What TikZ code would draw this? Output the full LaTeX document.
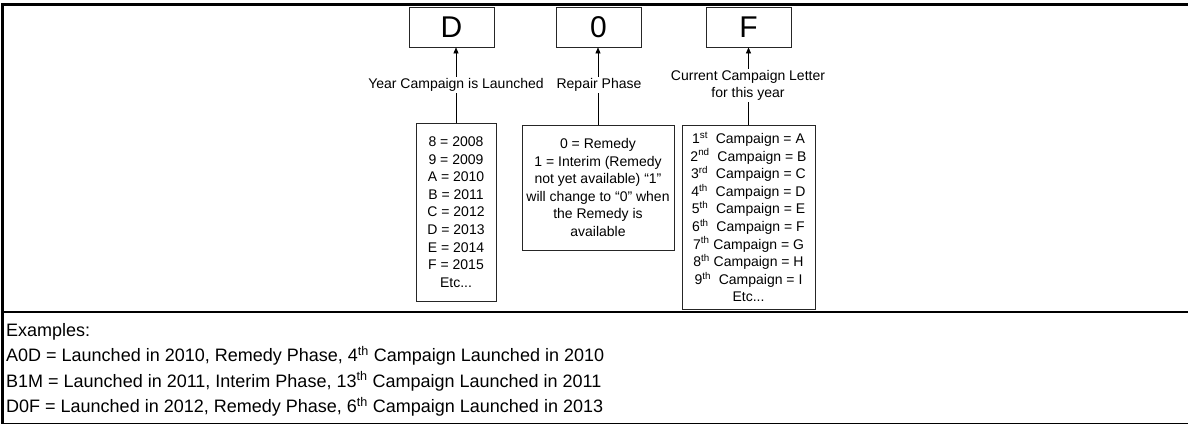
\documentclass[tikz,border=0pt]{standalone}
\usepackage{fontspec}
\setmainfont{Liberation Sans}
\usetikzlibrary{arrows.meta}
\tikzset{
  bigbox/.style={draw=black!85, line width=0.8pt, inner sep=0pt, minimum width=85pt, minimum height=40pt, font=\fontsize{30}{30}\selectfont},
  listbox/.style={draw=black!85, line width=0.8pt, inner sep=0pt, align=center, font=\fontsize{14}{17.6}\selectfont},
  lbl/.style={inner sep=1.5pt, align=center, font=\fontsize{14}{17}\selectfont},
  conn/.style={line width=0.6pt, black},
  arr/.style={conn, -{Triangle[length=6pt,width=5pt]}},
  extxt/.style={inner sep=0pt, anchor=base west, font=\fontsize{18}{25}\selectfont},
  frame/.style={black}
}
\begin{document}
\begin{tikzpicture}[x=1pt,y=-1pt]
\useasboundingbox (0,0) rectangle (1188,425);
% frame
\draw[frame, line width=2.4pt] (1188,4.5) -- (2.5,4.5) -- (2.5,423.5);
\draw[frame, line width=2.2pt] (2.5,312) -- (1188,312);
\draw[frame, line width=1.2pt] (2.5,423.8) -- (1188,423.8);
% code letters
\node[bigbox] (D) at (451.5,27) {D};
\node[bigbox] (Z) at (598.5,27) {0};
\node[bigbox] (F) at (748.5,27) {F};
% list boxes
\node[listbox, minimum width=80pt, minimum height=178pt] (year) at (456,212)
  {8 = 2008\\9 = 2009\\A = 2010\\B = 2011\\C = 2012\\D = 2013\\E = 2014\\F = 2015\\Etc...};
\node[listbox, minimum width=152pt, minimum height=125pt] (rem) at (598,187.5)
  {0 = Remedy\\1 = Interim (Remedy\\not yet available) “1”\\will change to “0” when\\the Remedy is\\available};
\node[listbox, minimum width=133pt, minimum height=184pt] (camp) at (748.5,217)
  {1\textsuperscript{st}\ \ Campaign = A\\2\textsuperscript{nd}\ \ Campaign = B\\3\textsuperscript{rd}\ \ Campaign = C\\4\textsuperscript{th}\ \ Campaign = D\\5\textsuperscript{th}\ \ Campaign = E\\6\textsuperscript{th}\ \ Campaign = F\\7\textsuperscript{th} Campaign = G\\8\textsuperscript{th} Campaign = H\\9\textsuperscript{th}\ \ Campaign = I\\Etc...};
% labels
\node[lbl] (ly) at (456,85) {Year Campaign is Launched};
\node[lbl] (lr) at (599,85) {Repair Phase};
\node[lbl] (lc) at (748,85.5) {Current Campaign Letter\\for this year};
% connectors
\draw[conn] (year.north) -- (year.north |- ly.south);
\draw[arr] (year.north |- ly.north) -- (year.north |- D.south);
\draw[conn] (rem.north) -- (rem.north |- lr.south);
\draw[arr] (rem.north |- lr.north) -- (rem.north |- Z.south);
\draw[conn] (camp.north) -- (camp.north |- lc.south);
\draw[arr] (camp.north |- lc.north) -- (camp.north |- F.south);
% examples
\node[extxt] (ex0) at (6,336.5) {Examples:};
\node[extxt] (ex1) at (6,361.5) {A0D = Launched in 2010, Remedy Phase, 4\textsuperscript{th} Campaign Launched in 2010};
\node[extxt] (ex2) at (6,387) {B1M = Launched in 2011, Interim Phase, 13\textsuperscript{th} Campaign Launched in 2011};
\node[extxt] (ex3) at (6,412.5) {D0F = Launched in 2012, Remedy Phase, 6\textsuperscript{th} Campaign Launched in 2013};
\end{tikzpicture}
\end{document}
